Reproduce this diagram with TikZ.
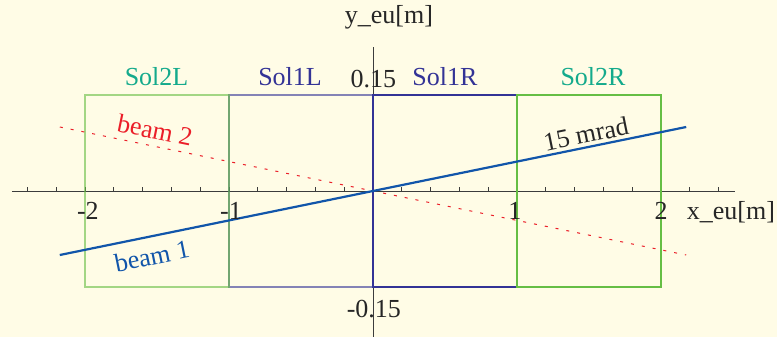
\documentclass[tikz,border=0pt]{standalone}
\usepackage{fontspec}
\setmainfont{Liberation Serif}
\usepackage{xcolor}
\usepackage{tikz}
\definecolor{cream}{RGB}{255,252,230}
\definecolor{axisgray}{RGB}{60,60,60}
\definecolor{solgreen}{RGB}{102,190,68}
\definecolor{solnavy}{RGB}{51,51,150}
\definecolor{solteal}{RGB}{20,170,140}
\definecolor{beamblue}{RGB}{17,85,170}
\definecolor{beamred}{RGB}{235,30,40}

\begin{document}
\begin{tikzpicture}[x=144pt, y=640pt,
  lbl/.style={font=\fontsize{26}{30}\selectfont, inner sep=0pt, anchor=base},
  axis/.style={draw=axisgray, line width=0.9pt},
  solbox/.style={line width=1.8pt},
  faint/.style={draw opacity=0.6},
  beam/.style={line width=2.2pt, draw=beamblue},
  dotbeam/.style={line width=1pt, draw=beamred, dash pattern=on 3pt off 8pt}
]
\path[use as bounding box, fill=cream] (-373pt,-146pt) rectangle (404pt,191pt);

% Axes
\coordinate (xl) at (-2.507,0);
\coordinate (xr) at (2.514,0);
\coordinate (yt) at (0,0.225);
\coordinate (yb) at (0,-0.228);
\draw[axis] (xl) -- (xr);
\draw[axis] (yb) -- (yt);
\foreach \t in {-12,...,12}
  \draw[axis] (\t*0.2,0) -- ++(0,3.5pt);

% Solenoids
\draw[solbox, faint, draw=solnavy] (-1,-0.15) rectangle (0,0.15);
\draw[solbox, faint, draw=solgreen] (-2,-0.15) rectangle (-1,0.15);
\draw[solbox, draw=solnavy, line width=2.2pt] (0,-0.15) rectangle (1,0.15);
\draw[solbox, draw=solgreen, line width=2.6pt] (1,-0.15) rectangle (2,0.15);

\node[lbl, text=solteal] (sol2l) at (-1.503,0.1656) {Sol2L};
\node[lbl, text=solnavy] (sol1l) at (-0.576,0.1656) {Sol1L};
\node[lbl, text=solnavy] (sol1r) at (0.5,0.1656) {Sol1R};
\node[lbl, text=solteal] (sol2r) at (1.528,0.1656) {Sol2R};

% Beams
\coordinate (b1a) at (-2.175,-0.1);
\coordinate (b1b) at (2.175,0.1);
\coordinate (b2a) at (-2.175,0.1);
\coordinate (b2b) at (2.175,-0.1);
\draw[dotbeam] (b2a) -- (b2b);
\draw[beam] (b1a) -- (b1b);

\node[lbl, anchor=center, text=beamred, rotate=-11.5] (lb2) at (-1.514,0.0953) {beam 2};
\node[lbl, anchor=center, text=beamblue, rotate=11.5] (lb1) at (-1.535,-0.1016) {beam 1};
\node[lbl, anchor=center, text=black!85, rotate=11.5] (mrad) at (1.479,0.089) {15 mrad};

% Tick labels
\node[lbl, text=black!85] (tm2) at (-1.98,-0.0445) {-2};
\node[lbl, text=black!85] (tm1) at (-0.986,-0.0445) {-1};
\node[lbl, text=black!85] (tp1) at (0.986,-0.0445) {1};
\node[lbl, text=black!85] (tp2) at (2.0,-0.0445) {2};
\node[lbl, text=black!85] (ytop) at (0.003,0.161) {0.15};
\node[lbl, text=black!85] (ybot) at (0.006,-0.197) {-0.15};
\node[lbl, text=black!85] (xname) at (2.486,-0.0453) {x\_eu[m]};
\node[lbl, text=black!85] (yname) at (0.111,0.261) {y\_eu[m]};

\end{tikzpicture}
\end{document}
